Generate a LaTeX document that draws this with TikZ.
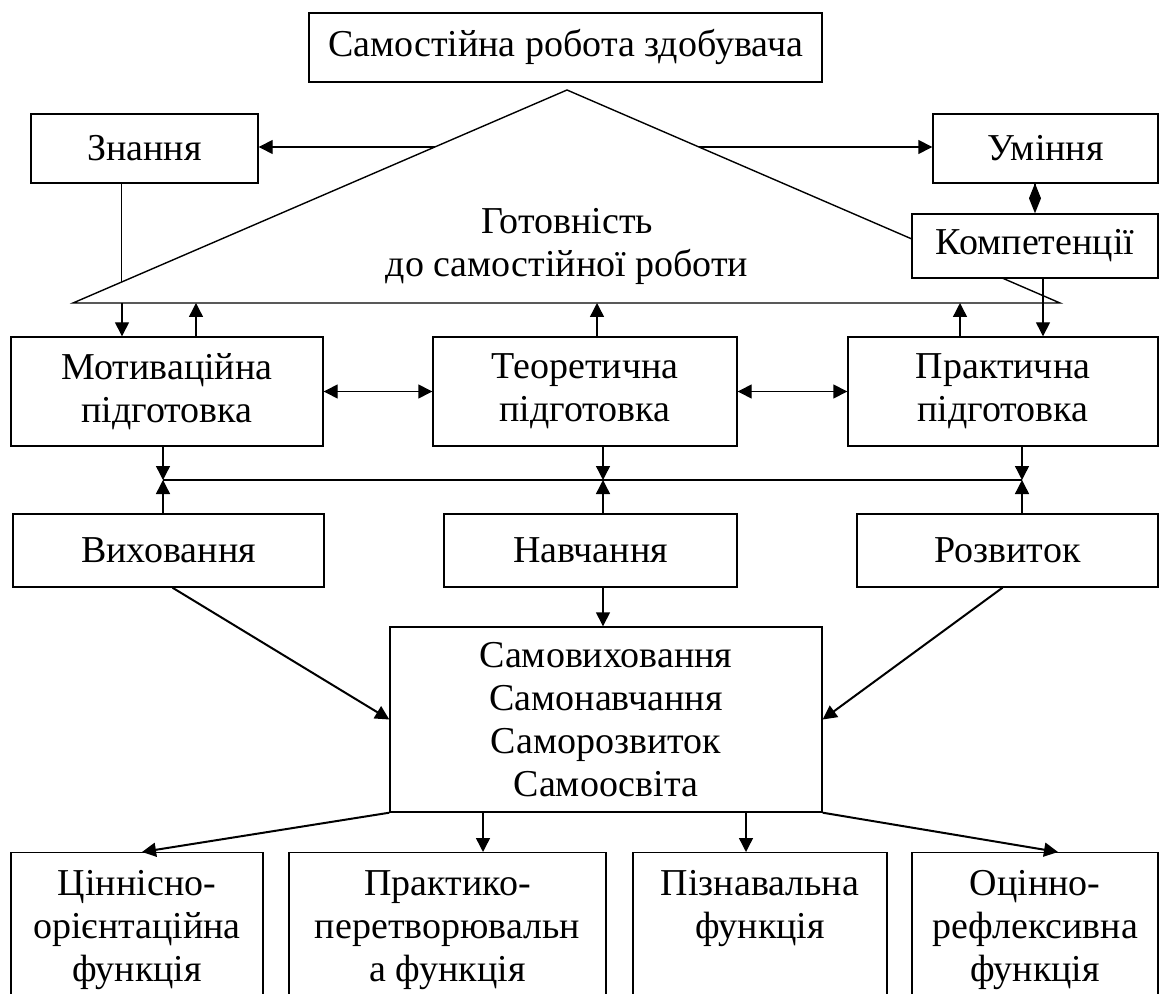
\documentclass[tikz,border=0pt]{standalone}
\usepackage{fontspec}
\setmainfont{Liberation Serif}
\usetikzlibrary{arrows.meta,calc}

\begin{document}
\begin{tikzpicture}[x=0.5pt, y=-0.5pt, font=\fontsize{19}{21.5}\selectfont,
  boite/.style={draw=black, fill=white, line width=0.7pt, inner sep=0pt, align=center},
  fleche/.style={line width=0.7pt, -{Triangle[length=7pt,width=7pt]}},
  double/.style={line width=0.7pt, {Triangle[length=7pt,width=7pt]}-{Triangle[length=7pt,width=7pt]}},
  trait/.style={line width=0.7pt}]
  \useasboundingbox (0,0) rectangle (1161,994);
  \clip (0,0) rectangle (1161,994);

  % Triangle.
  \coordinate (sommet) at (567,90);
  \coordinate (gauche) at (73,303);
  \coordinate (droite) at (1060,303);
  \path[draw=black, trait] (gauche) -- (sommet) -- (droite) -- cycle;
  \node[align=center] (gotov) at (567,246) {Готовність\\до самостійної роботи};

  % Haut.
  \node[boite, minimum width=256.5pt, minimum height=34.5pt] (robota) at (565.5,47.5) {Самостійна робота здобувача};
  \node[boite, minimum width=113.5pt, minimum height=34.5pt] (znannia) at (144.5,148.5) {Знання};
  \node[boite, minimum width=112.5pt, minimum height=34.5pt] (uminnia) at (1045.5,148.5) {Уміння};
  \node[boite, minimum width=123pt, minimum height=32pt] (kompet) at (1035,246) {Компетенції};

  % Milieu.
  \node[boite, minimum width=156pt, minimum height=54.5pt] (motyv) at (167,391.5) {Мотиваційна\\підготовка};
  \node[boite, minimum width=152pt, minimum height=54.5pt] (teor) at (585,391.5) {Теоретична\\підготовка};
  \node[boite, minimum width=155pt, minimum height=54.5pt] (prakt) at (1003,391.5) {Практична\\підготовка};

  \node[boite, minimum width=155.5pt, minimum height=36.5pt] (vykh) at (168.5,550.5) {Виховання};
  \node[boite, minimum width=146.5pt, minimum height=36.5pt] (navch) at (590.5,550.5) {Навчання};
  \node[boite, minimum width=150.5pt, minimum height=36.5pt] (rozv) at (1007.5,550.5) {Розвиток};

  \node[boite, minimum width=216pt, minimum height=92.5pt] (samo) at (606,719.5) {Самовиховання\\Самонавчання\\Саморозвиток\\Самоосвіта};

  % Bas.
  \node[boite, anchor=north, minimum width=126pt, minimum height=77pt] (f1) at (137,852) {Ціннісно-\\орієнтаційна\\функція};
  \node[boite, anchor=north, minimum width=158.5pt, minimum height=77pt] (f2) at (447.5,852) {Практико-\\перетворювальн\\а функція};
  \node[boite, anchor=north, minimum width=127pt, minimum height=77pt] (f3) at (760,852) {Пізнавальна\\функція\\\phantom{функція}};
  \node[boite, anchor=north, minimum width=123pt, minimum height=77pt] (f4) at (1035,852) {Оцінно-\\рефлексивна\\функція};

  % Fleches du triangle.
  \coordinate (tz) at ($(sommet)!0.2676!(gauche)$);
  \coordinate (tu) at ($(sommet)!0.2676!(droite)$);
  \coordinate (kz) at ($(sommet)!0.9014!(gauche)$);
  \draw[fleche] (tz) -- (tz -| znannia.east);
  \draw[fleche] (tu) -- (tu -| uminnia.west);
  \draw[line width=0.7pt, -{Diamond[length=15pt,width=6pt]}] (kompet.north |- uminnia.south) -- (kompet.north);
  \draw[trait] (znannia.south -| kz) -- (kz);

  \coordinate (b1) at (122,303);
  \coordinate (b2) at (196,303);
  \coordinate (b3) at (597,303);
  \coordinate (b4) at (960,303);
  \coordinate (b5) at (1043,303);
  \draw[fleche] (b1) -- (b1 |- motyv.north);
  \draw[fleche] (b2 |- motyv.north) -- (b2);
  \draw[fleche] (b3 |- teor.north) -- (b3);
  \draw[fleche] (b4 |- prakt.north) -- (b4);
  \draw[fleche] (b5 |- kompet.south) -- (b5 |- prakt.north);

  % Fleches doubles.
  \draw[double] (motyv.east) -- (teor.west);
  \draw[double] (teor.east) -- (prakt.west);

  % Ligne du milieu.
  \coordinate (v1) at (163,480);
  \coordinate (v2) at (603,480);
  \coordinate (v3) at (1022,480);
  \draw[trait] (v1) -- (v3);
  \draw[fleche] (v1 |- motyv.south) -- (v1);
  \draw[fleche] (v2 |- teor.south) -- (v2);
  \draw[fleche] (v3 |- prakt.south) -- (v3);
  \draw[fleche] (v1 |- vykh.north) -- (v1);
  \draw[fleche] (v2 |- navch.north) -- (v2);
  \draw[fleche] (v3 |- rozv.north) -- (v3);

  % Vers le centre.
  \draw[fleche] (v2 |- navch.south) -- (v2 |- samo.north);
  \draw[fleche, line width=1pt] ($(vykh.south)+(4,0)$) -- (samo.west);
  \draw[fleche, line width=1pt] ($(rozv.south)+(-5,0)$) -- (samo.east);

  % Fonctions.
  \coordinate (a2) at (483,852);
  \coordinate (a3) at (746,852);
  \draw[fleche, line width=1pt] (samo.south west) -- ($(f1.north)+(5,0)$);
  \draw[fleche] (a2 |- samo.south) -- (a2);
  \draw[fleche] (a3 |- samo.south) -- (a3);
  \draw[fleche, line width=1pt] (samo.south east) -- ($(f4.north)+(23,0)$);
\end{tikzpicture}
\end{document}
